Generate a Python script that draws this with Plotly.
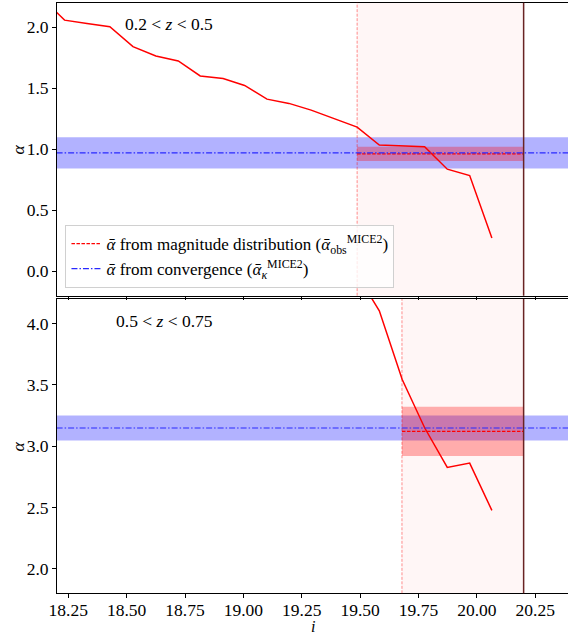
# IMPORTS --------------------------------------------------------------------

import plotly.graph_objects as go
from plotly.subplots import make_subplots


# DATA -----------------------------------------------------------------------

# 0.2 < z < 0.5
top_i = [18.137, 18.234, 18.33, 18.428, 18.527, 18.625, 18.721, 18.815, 18.913, 19.005,
         19.101, 19.195, 19.29, 19.385, 19.487, 19.582, 19.68, 19.776, 19.873, 19.969, 20.064]
top_alpha = [2.24, 2.057, 2.03, 2.003, 1.84, 1.763, 1.723, 1.60, 1.579, 1.522,
             1.41, 1.375, 1.32, 1.255, 1.181, 1.034, 1.027, 1.02, 0.836, 0.784, 0.273]
top_cut = 19.487
top_obs = [0.904, 0.961, 1.02]      # low, mean, high
top_kappa = [0.841, 0.969, 1.097]

# 0.5 < z < 0.75
bot_i = [19.487, 19.582, 19.68, 19.776, 19.873, 19.969, 20.064]
bot_alpha = [4.40, 4.103, 3.543, 3.15, 2.827, 2.862, 2.476]
bot_cut = 19.679
bot_obs = [2.919, 3.121, 3.322]
bot_kappa = [3.047, 3.148, 3.249]

i_limit = 20.2
x_range = [18.2, 20.39]
x_ticks = [18.25, 18.5, 18.75, 19.0, 19.25, 19.5, 19.75, 20.0, 20.25]

panels = [
    dict(row=1, i=top_i, alpha=top_alpha, cut=top_cut, obs=top_obs, kappa=top_kappa,
         yrange=[-0.2, 2.2], label='0.2 < <i>z</i> < 0.5'),
    dict(row=2, i=bot_i, alpha=bot_alpha, cut=bot_cut, obs=bot_obs, kappa=bot_kappa,
         yrange=[1.8, 4.2], label='0.5 < <i>z</i> < 0.75'),
]


# PLOT -----------------------------------------------------------------------

FONT = 'Liberation Serif'
FS = 17.5
AB = '<i>ᾱ</i>'

fig = make_subplots(rows=2, cols=1, shared_xaxes=True, vertical_spacing=0.005)

for p in panels:
    r = p['row']
    xr = 'x' if r == 1 else 'x2'
    yr = 'y' if r == 1 else 'y2'

    # pale shading between cut and limiting magnitude
    fig.add_shape(type='rect', xref=xr, yref=yr + ' domain', x0=p['cut'], x1=i_limit,
                  y0=0, y1=1, fillcolor='rgba(255,0,0,0.035)', line_width=0, layer='below')
    # convergence band
    fig.add_shape(type='rect', xref=xr + ' domain', yref=yr, x0=0, x1=1,
                  y0=p['kappa'][0], y1=p['kappa'][2],
                  fillcolor='rgba(0,0,255,0.3)', line_width=0, layer='below')
    # magnitude distribution band
    fig.add_shape(type='rect', xref=xr, yref=yr, x0=p['cut'], x1=i_limit,
                  y0=p['obs'][0], y1=p['obs'][2],
                  fillcolor='rgba(255,0,0,0.3)', line_width=0, layer='below')
    # vertical lines
    fig.add_shape(type='line', xref=xr, yref=yr + ' domain', x0=p['cut'], x1=p['cut'],
                  y0=0, y1=1, line=dict(color='rgba(255,0,0,0.45)', width=1, dash='3px,1.5px'))
    fig.add_shape(type='line', xref=xr, yref=yr + ' domain', x0=i_limit, x1=i_limit,
                  y0=0, y1=1, line=dict(color='rgb(105,35,35)', width=1.5))

    fig.add_trace(go.Scatter(x=p['i'], y=p['alpha'], mode='lines',
                             line=dict(color='red', width=1.5), showlegend=False),
                  row=r, col=1)
    fig.add_trace(go.Scatter(x=[p['cut'], i_limit], y=[p['obs'][1]] * 2, mode='lines',
                             line=dict(color='red', width=1.2, dash='3.5px,1.5px'),
                             name=AB + ' from magnitude distribution (' + AB +
                                  '<sub>obs</sub><sup>MICE2</sup>)',
                             showlegend=(r == 1)),
                  row=r, col=1)
    fig.add_trace(go.Scatter(x=x_range, y=[p['kappa'][1]] * 2, mode='lines',
                             line=dict(color='rgb(40,40,255)', width=1.2,
                                       dash='6px,2px,1.5px,2px'),
                             name=AB + ' from convergence (' + AB +
                                  '<sub><i>κ</i></sub><sup>MICE2</sup>)',
                             showlegend=(r == 1)),
                  row=r, col=1)

    fig.update_yaxes(range=p['yrange'], dtick=0.5, tickformat='.1f', row=r, col=1)

# panel labels and axis titles
txt = dict(xref='paper', yref='paper', xanchor='center', yanchor='middle', showarrow=False,
           font=dict(size=FS, color='black', family=FONT))
fig.add_annotation(text=panels[0]['label'], x=0.287, y=0.962, **txt)
fig.add_annotation(text=panels[1]['label'], x=0.279, y=0.4958, **txt)
for yc in [0.765, 0.298]:
    fig.add_annotation(text='<i>α</i>', x=0.018, y=yc, textangle=-90, **txt)
fig.add_annotation(text='<i>i</i>', x=0.545, y=0.0, borderpad=0, xanchor='center',
                   yanchor='bottom', xref='paper', yref='paper', showarrow=False,
                   font=dict(size=16, color='black', family=FONT))

axis_style = dict(showline=True, linecolor='black', linewidth=1, ticks='outside',
                  ticklen=3.5, tickwidth=0.8, tickcolor='black', showgrid=False,
                  zeroline=False, tickfont=dict(size=FS, color='black', family=FONT))

fig.update_xaxes(range=x_range, tickvals=x_ticks, tickformat='.2f', mirror=True,
                 ticklabelstandoff=-3, **axis_style)
fig.update_yaxes(mirror=False, **axis_style)
fig.update_xaxes(showticklabels=False, row=1, col=1)

fig.update_layout(
    width=568, height=636,
    margin=dict(l=0, r=0, t=0, b=0),
    plot_bgcolor='white', paper_bgcolor='white',
    font=dict(family=FONT, size=FS, color='black'),
    xaxis=dict(domain=[0.0868, 1.0]),
    xaxis2=dict(domain=[0.0868, 1.0]),
    yaxis=dict(domain=[0.5351, 0.9958]),
    yaxis2=dict(domain=[0.0671, 0.5299]),
    legend=dict(x=0.1026, y=0.6462, xanchor='left', yanchor='top',
                bgcolor='rgba(255,255,255,0.8)', bordercolor='#d0d0d0', borderwidth=1,
                font=dict(size=17, family=FONT), itemwidth=30, tracegroupgap=2),
)

# page body has a default 8px margin; drop it so the figure sits at the window corner
fig.write_html("out.html", config={'displayModeBar': False},
               post_script="document.body.style.margin = '0';")
